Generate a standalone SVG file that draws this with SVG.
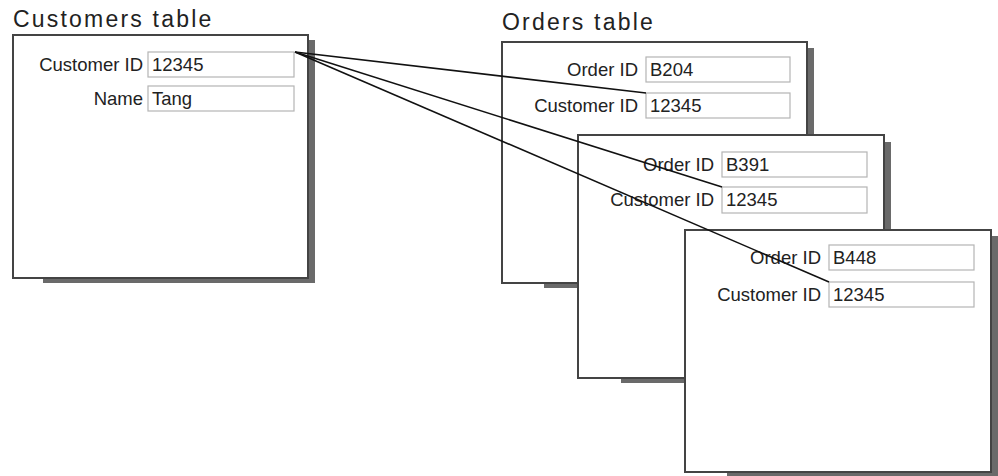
<svg xmlns="http://www.w3.org/2000/svg" width="998" height="476" viewBox="0 0 998 476">
  <style>
    .title { font-family: "Liberation Sans", Arial, sans-serif; font-size: 23px; letter-spacing: 2.2px; fill: #222; }
    .lbl { font-family: "Liberation Sans", Arial, sans-serif; font-size: 18.5px; fill: #222; text-anchor: end; }
    .val { font-family: "Liberation Sans", Arial, sans-serif; font-size: 18.5px; fill: #222; }
    .box { fill: #fff; stroke: #444; stroke-width: 2; }
    .shadow { fill: #6a6a6a; }
    .field { fill: #fff; stroke: #b4b4b4; stroke-width: 1.2; }
    .link { stroke: #111; stroke-width: 1.6; fill: none; }
  </style>

  <!-- Customers table -->
  <g id="customers">
    <text class="title" x="13" y="27">Customers table</text>
    <rect class="shadow" x="308" y="40" width="7" height="243"/>
    <rect class="shadow" x="43" y="278" width="272" height="5"/>
    <rect class="box" x="13" y="35" width="295" height="243"/>
    <text class="lbl" x="143" y="71">Customer ID</text>
    <rect class="field" x="148" y="52" width="146" height="25"/>
    <text class="val" x="152" y="71">12345</text>
    <text class="lbl" x="143" y="105">Name</text>
    <rect class="field" x="148" y="86" width="146" height="25"/>
    <text class="val" x="152" y="105">Tang</text>
  </g>

  <!-- Orders table, first record -->
  <g id="order-b204">
    <text class="title" x="502" y="30">Orders table</text>
    <rect class="shadow" x="807" y="48" width="7" height="240"/>
    <rect class="shadow" x="544" y="283" width="270" height="5"/>
    <rect class="box" x="502" y="42" width="305" height="241"/>
    <text class="lbl" x="638" y="76">Order ID</text>
    <rect class="field" x="646" y="57" width="144" height="25"/>
    <text class="val" x="650" y="76">B204</text>
    <text class="lbl" x="638" y="112">Customer ID</text>
    <rect class="field" x="646" y="93" width="144" height="25"/>
    <text class="val" x="650" y="112">12345</text>
  </g>

  <!-- Orders table, second record -->
  <g id="order-b391">
    <rect class="shadow" x="884" y="142" width="7" height="241"/>
    <rect class="shadow" x="621" y="378" width="270" height="5"/>
    <rect class="box" x="578" y="135" width="306" height="243"/>
    <text class="lbl" x="714" y="171">Order ID</text>
    <rect class="field" x="722" y="152" width="145" height="25"/>
    <text class="val" x="726" y="171">B391</text>
    <text class="lbl" x="714" y="206">Customer ID</text>
    <rect class="field" x="722" y="187" width="145" height="26"/>
    <text class="val" x="726" y="206">12345</text>
  </g>

  <!-- Orders table, third record -->
  <g id="order-b448">
    <rect class="shadow" x="991" y="236" width="7" height="241"/>
    <rect class="shadow" x="727" y="472" width="271" height="5"/>
    <rect class="box" x="685" y="230" width="306" height="242"/>
    <text class="lbl" x="821" y="264">Order ID</text>
    <rect class="field" x="829" y="245" width="145" height="25"/>
    <text class="val" x="833" y="264">B448</text>
    <text class="lbl" x="821" y="301">Customer ID</text>
    <rect class="field" x="829" y="282" width="145" height="25"/>
    <text class="val" x="833" y="301">12345</text>
  </g>

  <!-- Customer ID references -->
  <g id="connectors">
    <line class="link" x1="295" y1="52" x2="646" y2="93"/>
    <line class="link" x1="295" y1="52" x2="722" y2="187"/>
    <line class="link" x1="295" y1="52" x2="829" y2="282"/>
  </g>
</svg>
